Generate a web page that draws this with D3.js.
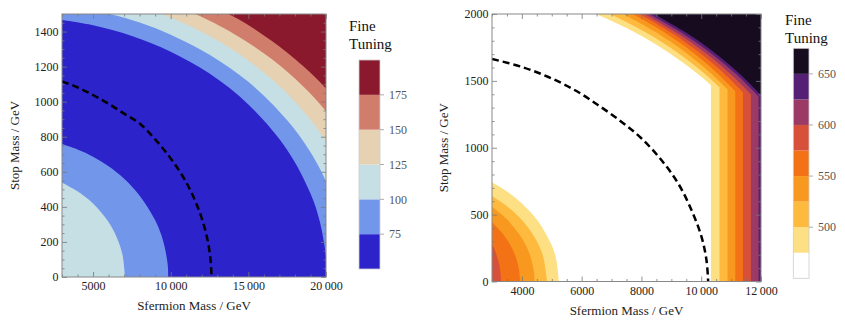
<!DOCTYPE html>
<html lang="en">
<head>
<meta charset="UTF-8">
<title>Fine tuning contours</title>
<style>
  body { margin: 0; background: #fff; }
  svg { display: block; font-family: "Liberation Serif", "DejaVu Serif", serif; }
  .tick text { font-family: "Liberation Serif", "DejaVu Serif", serif; font-size: 12px; fill: #222; }
  .tick line { stroke: #777; stroke-width: 0.8; }
</style>
<script src="https://d3js.org/d3.v7.min.js"></script>
</head>
<body>
<svg id="chart" width="845" height="323"></svg>
<script>
// ---------- left panel ----------
const leftXDomain = [3000, 20000];
const leftYDomain = [0, 1500];
const leftXTicks = [5000, 10000, 15000, 20000];
const leftYTicks = [0, 200, 400, 600, 800, 1000, 1200, 1400];
const leftLevels = [50, 75, 100, 125, 150, 175, 200];
const leftLegendTicks = [75, 100, 125, 150, 175];
const leftColors = ["#2c23cb", "#7296ea", "#c5dfe4", "#e6d2b3", "#d07d6b", "#8a192e"];

// contour boundaries: [sfermion mass, stop mass]
const leftInner100 = [[3000,538],[4000,489],[5000,419],[6000,313],[6600,210],[6900,125],[7057,0]];
const leftInner75 = [[3000,758],[4000,727],[5000,686],[6000,631],[7000,560],[8000,464],[9000,323],[9500,209],[9800,76],[9845,0]];
const leftOuter75 = [[3000,1466],[5000,1436],[7500,1375],[10000,1285],[12500,1160],[15000,984],[17500,725],[19000,476],[19600,316],[20000,116],[20061,0]];
const leftOuter100 = [[3000,1550],[6091,1500],[8000,1451],[10000,1382],[12500,1268],[15000,1113],[17500,894],[19000,711],[20000,543],[21000,272],[21324,0]];
const leftOuter125 = [[3000,1634],[6000,1590],[9400,1500],[12000,1398],[14500,1266],[17000,1089],[19000,896],[20000,772],[21500,515],[22634,0]];
const leftOuter150 = [[3000,1699],[7000,1638],[11564,1500],[14000,1390],[16500,1243],[18500,1090],[20000,945],[22000,682],[23984,0]];
const leftOuter175 = [[3000,1781],[8000,1700],[13709,1500],[16000,1378],[18000,1244],[20000,1075],[22500,779],[24979,0]];
const leftDashed = [[3000,1116],[4000,1082],[5000,1038],[6000,988],[7000,932],[8000,876],[9000,785],[10000,676],[11000,540],[11800,385],[12300,240],[12550,112],[12630,0]];

// ---------- right panel ----------
const rightXDomain = [3000, 12000];
const rightYDomain = [0, 2000];
const rightXTicks = [4000, 6000, 8000, 10000, 12000];
const rightYTicks = [0, 500, 1000, 1500, 2000];
const rightLevels = [450, 475, 500, 525, 550, 575, 600, 625, 650, 675];
const rightLegendTicks = [500, 550, 600, 650];
const rightColors = ["#ffffff", "#fee084", "#fdba3e", "#f9981e", "#f47216", "#d7503a", "#9c3a66", "#561f76", "#170b20"];

// bottom-left corner contours
const rightCorner475 = [[3000,742],[3500,673],[4000,584],[4500,463],[5000,269],[5150,164],[5237,0]];
const rightCorner500 = [[3000,639],[3500,563],[4000,459],[4400,340],[4700,197],[4844,0]];
const rightCorner525 = [[3000,559],[3500,465],[4000,324],[4250,210],[4400,76],[4422,0]];
const rightCorner550 = [[3000,443],[3300,373],[3600,278],[3800,180],[3900,96],[3939,0]];
const rightCorner575 = [[3000,280],[3100,231],[3200,165],[3270,93],[3302,0]];
// top-right contours: arc down to the kink, then straight down
const rightOuter475 = [[6477,2000],[7500,1895],[8500,1771],[9500,1619],[10000,1531],[10323,1469]];
const rightOuter500 = [[6946,2000],[8000,1881],[9000,1743],[10000,1575],[10612,1452]];
const rightOuter525 = [[7393,2000],[8500,1861],[9500,1708],[10300,1561],[10880,1437]];
const rightOuter550 = [[7708,2000],[8700,1872],[9700,1715],[10500,1565],[11138,1424]];
const rightOuter575 = [[7930,2000],[9000,1860],[10000,1701],[10800,1548],[11396,1415]];
const rightOuter600 = [[8097,2000],[9200,1856],[10200,1699],[11000,1547],[11664,1400]];
const rightOuter625 = [[8255,2000],[9300,1866],[10300,1711],[11200,1543],[11919,1382]];
const rightOuter650 = [[8422,2000],[9500,1859],[10500,1701],[11300,1550],[12000,1394]];
const rightDashed = [[3000,1664],[3972,1606],[4868,1531],[5763,1432],[6544,1320],[7325,1195],[7996,1071],[8667,908],[9227,734],[9673,535],[10008,335],[10175,161],[10232,0]];

const svg = d3.select("#chart");

function fmt(n) {
  const s = String(n);
  return n >= 10000 ? s.slice(0, -3) + "\u2009" + s.slice(-3) : s;
}

function regionPath(x, y, pts, extra) {
  const line = d3.line().x(d => x(d[0])).y(d => y(d[1])).curve(d3.curveCatmullRom.alpha(0.5));
  return line(pts) + extra.map(p => "L" + x(p[0]) + "," + y(p[1])).join("") + "Z";
}

function addAxes(g, x, y, xMajor, yMajor, xMinor, yMinor) {
  const [x0, x1] = x.range();
  const [y0, y1] = y.range();
  const clean = a => a.select(".domain").remove();
  g.append("g").attr("transform", `translate(0,${y0})`)
    .call(d3.axisBottom(x).tickValues(xMinor).tickSize(-2.5).tickSizeOuter(0).tickFormat("")).call(clean);
  g.append("g").attr("transform", `translate(0,${y0})`)
    .call(d3.axisBottom(x).tickValues(xMajor).tickSize(-5).tickSizeOuter(0).tickPadding(4.5).tickFormat(fmt)).call(clean);
  g.append("g").attr("transform", `translate(0,${y1})`)
    .call(d3.axisTop(x).tickValues(xMinor).tickSize(-2.5).tickSizeOuter(0).tickFormat("")).call(clean);
  g.append("g").attr("transform", `translate(0,${y1})`)
    .call(d3.axisTop(x).tickValues(xMajor).tickSize(-5).tickSizeOuter(0).tickFormat("")).call(clean);
  g.append("g").attr("transform", `translate(${x0},0)`)
    .call(d3.axisLeft(y).tickValues(yMinor).tickSize(-2.5).tickSizeOuter(0).tickFormat("")).call(clean);
  g.append("g").attr("transform", `translate(${x0},0)`)
    .call(d3.axisLeft(y).tickValues(yMajor).tickSize(-5).tickSizeOuter(0).tickPadding(3.5).tickFormat(fmt)).call(clean);
  g.append("g").attr("transform", `translate(${x1},0)`)
    .call(d3.axisRight(y).tickValues(yMinor).tickSize(-2.5).tickSizeOuter(0).tickFormat("")).call(clean);
  g.append("g").attr("transform", `translate(${x1},0)`)
    .call(d3.axisRight(y).tickValues(yMajor).tickSize(-5).tickSizeOuter(0).tickFormat("")).call(clean);
  g.append("rect")
    .attr("x", x0).attr("y", y1).attr("width", x1 - x0).attr("height", y0 - y1)
    .attr("fill", "none").attr("stroke", "#888").attr("stroke-width", 1);
}

function addTitles(x, y, titleY) {
  const [x0, x1] = x.range();
  const [y0, y1] = y.range();
  svg.append("text").attr("x", (x0 + x1) / 2).attr("y", y0 + 33)
    .attr("text-anchor", "middle").attr("font-size", 13).attr("fill", "#222")
    .text("Sfermion Mass / GeV");
  svg.append("text")
    .attr("transform", `translate(${titleY},${(y0 + y1) / 2}) rotate(-90)`)
    .attr("text-anchor", "middle").attr("font-size", 13).attr("fill", "#222")
    .text("Stop Mass / GeV");
}

function addLegend(ly, levels, colors, ticks, boxX, boxW, titleX, titleY) {
  const g = svg.append("g");
  g.selectAll("rect.band").data(colors).join("rect")
    .attr("class", "band")
    .attr("x", boxX).attr("width", boxW)
    .attr("y", (c, i) => ly(levels[i + 1]))
    .attr("height", (c, i) => ly(levels[i]) - ly(levels[i + 1]))
    .attr("fill", c => c);
  g.append("rect").attr("x", boxX).attr("y", ly.range()[1])
    .attr("width", boxW).attr("height", ly.range()[0] - ly.range()[1])
    .attr("fill", "none").attr("stroke", "#ccc").attr("stroke-width", 0.8);
  g.selectAll("line.lt").data(ticks).join("line")
    .attr("class", "lt")
    .attr("x1", boxX + boxW).attr("x2", boxX + boxW + 4)
    .attr("y1", d => ly(d)).attr("y2", d => ly(d))
    .attr("stroke", "#999").attr("stroke-width", 0.8);
  g.selectAll("text.lt").data(ticks).join("text")
    .attr("class", "lt")
    .attr("x", boxX + boxW + 9).attr("y", d => ly(d)).attr("dy", "0.35em")
    .attr("font-size", 12).attr("fill", "#555")
    .text(d => d);
  g.append("text").attr("x", titleX).attr("y", titleY)
    .attr("font-size", 15).attr("fill", "#111").text("Fine");
  g.append("text").attr("x", titleX).attr("y", titleY + 18)
    .attr("font-size", 15).attr("fill", "#111").text("Tuning");
}

// ---- left plot ----
const xL = d3.scaleLinear().domain(leftXDomain).range([62, 326]);
const yL = d3.scaleLinear().domain(leftYDomain).range([277, 14]);
svg.append("clipPath").attr("id", "clipL").append("rect")
  .attr("x", 62).attr("y", 14).attr("width", 264).attr("height", 263);
const gL = svg.append("g");
const plotL = gL.append("g").attr("clip-path", "url(#clipL)");
plotL.append("rect").attr("x", 62).attr("y", 14).attr("width", 264).attr("height", 263)
  .attr("fill", leftColors[5]);
const leftRegions = [
  [leftOuter175, leftColors[4]],
  [leftOuter150, leftColors[3]],
  [leftOuter125, leftColors[2]],
  [leftOuter100, leftColors[1]],
  [leftOuter75, leftColors[0]],
  [leftInner75, leftColors[1]],
  [leftInner100, leftColors[2]]
];
leftRegions.forEach(([pts, col]) => {
  plotL.append("path").attr("d", regionPath(xL, yL, pts, [[3000, 0]])).attr("fill", col);
});
plotL.append("path")
  .attr("d", d3.line().x(d => xL(d[0])).y(d => yL(d[1])).curve(d3.curveCatmullRom.alpha(0.5))(leftDashed))
  .attr("fill", "none").attr("stroke", "#000").attr("stroke-width", 2.5).attr("stroke-dasharray", "7,4");
addAxes(gL, xL, yL, leftXTicks, leftYTicks,
  d3.range(3000, 20001, 1000).filter(v => v % 5000 !== 0),
  d3.range(0, 1501, 50).filter(v => v % 200 !== 0));
addTitles(xL, yL, 18.5);
addLegend(d3.scaleLinear().domain([50, 200]).range([269, 60]),
  leftLevels, leftColors, leftLegendTicks, 359, 21, 349, 31);

// ---- right plot ----
const xR = d3.scaleLinear().domain(rightXDomain).range([492, 761]);
const yR = d3.scaleLinear().domain(rightYDomain).range([281.5, 14]);
svg.append("clipPath").attr("id", "clipR").append("rect")
  .attr("x", 492).attr("y", 14).attr("width", 269).attr("height", 267.5);
const gR = svg.append("g");
const plotR = gR.append("g").attr("clip-path", "url(#clipR)");
plotR.append("rect").attr("x", 492).attr("y", 14).attr("width", 269).attr("height", 267.5)
  .attr("fill", rightColors[0]);
const rightOuters = [rightOuter475, rightOuter500, rightOuter525, rightOuter550,
  rightOuter575, rightOuter600, rightOuter625, rightOuter650];
rightOuters.forEach((pts, i) => {
  const last = pts[pts.length - 1];
  const extra = last[0] >= 12000 ? [[12000, 2000]] : [[last[0], 0], [12000, 0], [12000, 2000]];
  plotR.append("path").attr("d", regionPath(xR, yR, pts, extra)).attr("fill", rightColors[i + 1]);
});
const rightCorners = [rightCorner475, rightCorner500, rightCorner525, rightCorner550, rightCorner575];
rightCorners.forEach((pts, i) => {
  plotR.append("path").attr("d", regionPath(xR, yR, pts, [[3000, 0]])).attr("fill", rightColors[i + 1]);
});
plotR.append("path")
  .attr("d", d3.line().x(d => xR(d[0])).y(d => yR(d[1])).curve(d3.curveCatmullRom.alpha(0.5))(rightDashed))
  .attr("fill", "none").attr("stroke", "#000").attr("stroke-width", 2.5).attr("stroke-dasharray", "7,4");
addAxes(gR, xR, yR, rightXTicks, rightYTicks,
  d3.range(3000, 12001, 500).filter(v => v % 2000 !== 0),
  d3.range(0, 2001, 100).filter(v => v % 500 !== 0));
addTitles(xR, yR, 447.5);
addLegend(d3.scaleLinear().domain([450, 675]).range([278.3, 48.3]),
  rightLevels, rightColors, rightLegendTicks, 793.3, 15.7, 785, 25);
</script>
</body>
</html>
